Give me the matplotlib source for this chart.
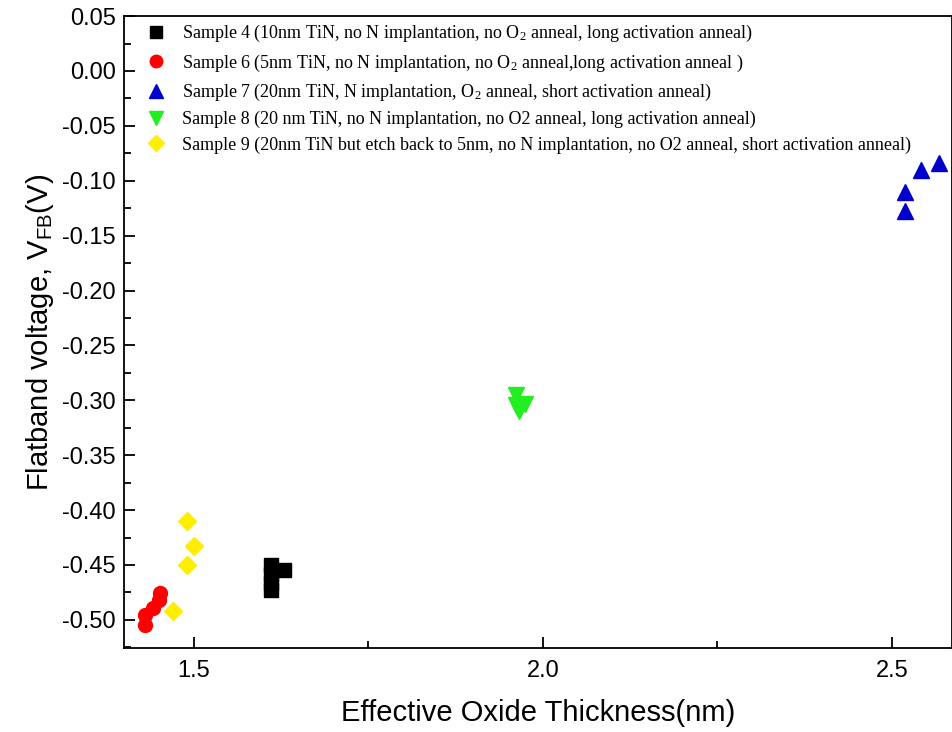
import matplotlib.pyplot as plt
from matplotlib.ticker import MultipleLocator

plt.rcParams['font.family'] = 'Liberation Sans'
plt.rcParams['mathtext.fontset'] = 'custom'
plt.rcParams['mathtext.rm'] = 'Liberation Serif'
plt.rcParams['mathtext.it'] = 'Liberation Serif:italic'
plt.rcParams['mathtext.sf'] = 'Liberation Sans'

# Data (EOT in nm, VFB in V)
s4_x = [1.611, 1.611, 1.611, 1.611, 1.630]
s4_y = [-0.450, -0.458, -0.466, -0.473, -0.455]

s6_x = [1.430, 1.430, 1.441, 1.450, 1.452]
s6_y = [-0.505, -0.496, -0.489, -0.482, -0.476]

s7_x = [2.568, 2.541, 2.519, 2.519]
s7_y = [-0.084, -0.090, -0.110, -0.128]

s8_x = [1.961, 1.961, 1.974, 1.966]
s8_y = [-0.295, -0.304, -0.303, -0.310]

s9_x = [1.491, 1.501, 1.491, 1.470]
s9_y = [-0.410, -0.433, -0.450, -0.492]

labels = [
    'Sample 4 (10nm TiN, no N implantation, no O$_2$ anneal, long activation anneal)',
    'Sample 6 (5nm TiN, no N implantation, no O$_2$ anneal,long activation anneal )',
    'Sample 7 (20nm TiN, N implantation, O$_2$ anneal, short activation anneal)',
    'Sample 8 (20 nm TiN, no N implantation, no O2 anneal, long activation anneal)',
    'Sample 9 (20nm TiN but etch back to 5nm, no N implantation, no O2 anneal, short activation anneal)',
]

fig = plt.figure(figsize=(9.53, 7.32), dpi=100)
ax = fig.add_axes([0.130, 0.115, 0.869, 0.863])

ax.plot(s4_x, s4_y, 's', color='black', ms=9.5, label=labels[0])
ax.plot(s6_x, s6_y, 'o', color='red', ms=10, label=labels[1])
ax.plot(s7_x, s7_y, '^', color='#0000cc', ms=11, label=labels[2])
ax.plot(s8_x, s8_y, 'v', color='#22ee22', ms=11, label=labels[3])
ax.plot(s9_x, s9_y, 'D', color='#ffee00', ms=9, label=labels[4])

ax.set_xlim(1.4, 2.586)
ax.set_ylim(-0.5255, 0.05)
ax.xaxis.set_major_locator(MultipleLocator(0.5))
ax.xaxis.set_minor_locator(MultipleLocator(0.25))
ax.yaxis.set_major_locator(MultipleLocator(0.05))
ax.yaxis.set_minor_locator(MultipleLocator(0.025))
ax.yaxis.set_major_formatter(plt.FuncFormatter(lambda v, p: f'{v:.2f}'))
ax.tick_params(which='both', direction='in', width=1.3, labelsize=17)
ax.tick_params(which='major', length=8)
ax.tick_params(which='minor', length=5)
ax.tick_params(axis='x', pad=9)
ax.tick_params(axis='y', pad=6)
for sp in ax.spines.values():
    sp.set_linewidth(1.3)

ax.set_xlabel('Effective Oxide Thickness(nm)', fontsize=21, labelpad=12)
ax.set_ylabel('Flatband voltage, V$_{\\mathsf{FB}}$(V)', fontsize=21, labelpad=4)

ax.legend(loc='upper left', bbox_to_anchor=(0.017, 1.0), frameon=False,
          prop={'family': 'Liberation Serif', 'size': 13},
          handletextpad=0.85, labelspacing=0.45, borderaxespad=0, borderpad=0.4,
          handlelength=1.2, markerscale=0.9)

fig.savefig('out.png', dpi=100)
